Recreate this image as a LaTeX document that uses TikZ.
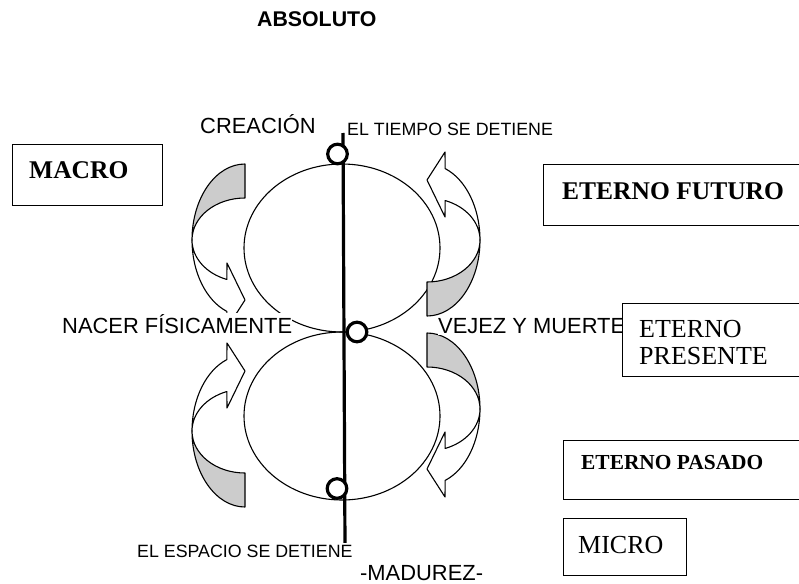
\documentclass[tikz,border=0pt]{standalone}
\usepackage{fontspec}
\setmainfont{Liberation Serif}
\setsansfont{Liberation Sans}
\definecolor{grayfill}{RGB}{204,204,204}
\newcommand{\curvedarrowshape}{%
  \fill[fill=grayfill] (0,-76) arc[start angle=270,end angle=180,x radius=53,y radius=76]
     arc[start angle=180,end angle=270,x radius=53,y radius=42] -- cycle;
  \draw[thinline] (0,-76) arc[start angle=270,end angle=180,x radius=53,y radius=76]
     arc[start angle=180,end angle=270,x radius=53,y radius=42] -- cycle;
  \draw[thinline] (-53,0) arc[start angle=180,end angle=110,x radius=53,y radius=76]
     -- (-18,88) -- (0,60) -- (-18,23) -- (-18.13,39.47)
     arc[start angle=110,end angle=180,x radius=53,y radius=42] -- cycle;
}
\begin{document}
\begin{tikzpicture}[x=1pt,y=-1pt,
  thinline/.style={line width=1.1pt, line join=round},
  lbl/.style={font=\sffamily\fontsize{21.9}{24}\selectfont, anchor=base west, inner xsep=0pt, inner ysep=1.5pt, fill=white},
  sml/.style={font=\sffamily\fontsize{17.8}{20}\selectfont, anchor=base west, inner xsep=0pt, inner ysep=1.5pt, fill=white},
  boxframe/.style={draw, line width=1.2pt, fill=white, anchor=north west, inner sep=0pt},
  serifb/.style={font=\rmfamily\bfseries\fontsize{25.5}{28}\selectfont, anchor=base west, inner sep=0pt},
  serifr/.style={font=\rmfamily\fontsize{26}{28}\selectfont, anchor=base west, inner sep=0pt}
]
\useasboundingbox (0,0) rectangle (799,583);

% ellipses
\draw[thinline] (342,248) ellipse [x radius=98, y radius=84];
\draw[thinline] (342,416) ellipse [x radius=98, y radius=84];

% curved arrows
\begin{scope}[shift={(245,240)}]\curvedarrowshape\end{scope}
\begin{scope}[shift={(245,431)}, yscale=-1]\curvedarrowshape\end{scope}
\begin{scope}[shift={(427,240)}, xscale=-1, yscale=-1]\curvedarrowshape\end{scope}
\begin{scope}[shift={(427,409)}, xscale=-1]\curvedarrowshape\end{scope}

% axis and circles
\draw[line width=3.2pt] (343,133) -- (345,548);
\draw[line width=3.2pt, fill=white] (337.5,154) circle[radius=9.8];
\draw[line width=3.2pt, fill=white] (357,332) circle[radius=9.8];
\draw[line width=3.2pt, fill=white] (337,488.5) circle[radius=9.8];

% labels
\node[lbl, font=\sffamily\bfseries\fontsize{21.3}{24}\selectfont, fill=none] (abs) at (257,27) {ABSOLUTO};
\node[lbl] (cre) at (200,133) {CREACIÓN};
\node[sml] (tiempo) at (347,135) {EL TIEMPO SE DETIENE};
\node[lbl] (nacer) at (62,333) {NACER FÍSICAMENTE};
\node[lbl] (vejez) at (438,333) {VEJEZ Y MUERTE};
\node[sml] (espacio) at (137,557) {EL ESPACIO SE DETIENE};
\node[lbl] (madurez) at (360,580) {-MADUREZ-};

% boxes
\node[boxframe, minimum width=150, minimum height=61] (macrobox) at (12,144) {};
\node[serifb] (macro) at (29,178) {MACRO};
\node[boxframe, minimum width=255.5, minimum height=61] (futbox) at (543,164) {};
\node[serifb] (futuro) at (562,199) {ETERNO FUTURO};
\node[boxframe, minimum width=176.5, minimum height=73] (presbox) at (622,303) {};
\node[serifr] (pres1) at (639,337) {ETERNO};
\node[serifr] (pres2) at (639,364) {PRESENTE};
\node[boxframe, minimum width=235.5, minimum height=59] (pasbox) at (563,440) {};
\node[serifb, font=\rmfamily\bfseries\fontsize{21.4}{24}\selectfont] (pasado) at (581,469) {ETERNO PASADO};
\node[boxframe, minimum width=123, minimum height=57] (microbox) at (563,518) {};
\node[serifr] (micro) at (578,553) {MICRO};
\end{tikzpicture}
\end{document}
